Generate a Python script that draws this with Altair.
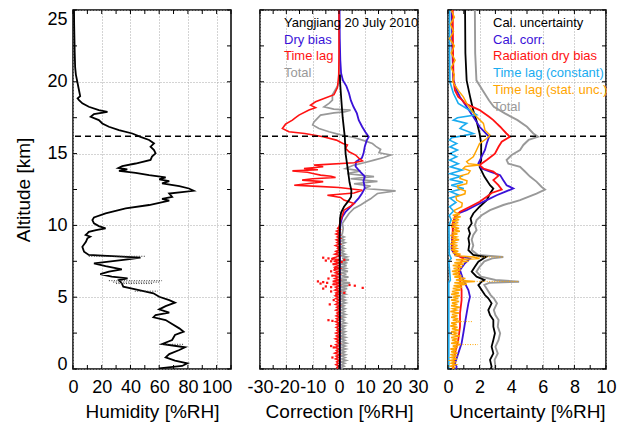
import altair as alt
import pandas as pd

FONT = "Liberation Sans"
W, H = 158, 359
FS_LAB = 18
FS_TIT = 19

# ---------------- data (altitude km, value) ----------------
HUMIDITY = [(25.0,0.7),(24.0,0.8),(23.0,1.0),(22.0,1.2),(21.0,1.5),(20.5,2.0),(20.0,3.0),(19.5,4.0),(19.0,5.0),(18.85,3.2),(18.72,4.2),(18.5,6.5),(18.26,11),(18.03,18),(17.91,24),(17.75,14.6),(17.56,12.3),(17.33,18),(17.1,20.4),(16.87,25),(16.64,32),(16.4,41.3),(16.17,47),(15.95,53),(15.71,56.4),(15.48,54),(15.25,56.4),(15.02,57.5),(14.79,55),(14.56,54),(14.31,43.6),(14.13,34.3),(14.0,31.6),(13.9,37.8),(13.8,32),(13.66,43.6),(13.5,53),(13.34,64.5),(13.2,60),(13.08,67),(12.92,62),(12.74,74),(12.57,80.7),(12.41,84),(12.22,67),(11.99,69),(11.85,62),(11.72,67),(11.42,53),(11.18,36.7),(10.83,22.7),(10.55,14.6),(10.37,13.5),(10.14,14.6),(9.95,18),(9.79,22.7),(9.67,16),(9.55,11),(9.44,10),(9.33,8.8),(9.21,12),(9.1,10),(8.86,9),(8.51,6.5),(8.17,7.7),(7.94,11),(7.75,47),(7.63,38),(7.36,14.6),(7.17,22.7),(6.94,34),(6.78,25),(6.61,19),(6.43,27),(6.31,38),(6.19,32),(5.96,34),(5.73,35),(5.54,43.6),(5.27,56),(5.03,60),(4.80,67),(4.62,71),(4.38,64.5),(4.15,60),(3.92,67),(3.76,57.5),(3.60,56),(3.41,64.5),(3.13,69),(2.83,74),(2.60,77),(2.37,71),(2.02,69),(1.74,62),(1.51,78),(1.32,74),(1.04,67),(0.81,64.5),(0.58,71),(0.39,79.6),(0.21,76),(0.05,60)]
HUM_SPIKES = [(7.85,11,50),(6.15,25,62),(6.05,28,60),(5.95,30,56),(5.42,43,59),(1.72,62,77)]

DRY_BIAS = [(25,0.2),(23,0.3),(21.5,0.5),(20.6,0.8),(20.1,1.5),(19.7,2.8),(19.2,3.8),(18.7,4.5),(18.26,5.5),(17.8,6.8),(17.33,7.5),(16.87,8.8),(16.5,10),(16.17,11.3),(15.9,10.5),(15.5,9.8),(15.0,9.3),(14.7,8.7),(14.45,6.5),(14.1,6.3),(13.75,8.0),(13.4,9.8),(13.1,9.3),(12.9,9.5),(12.6,9.8),(12.22,8.7),(11.9,7.5),(11.53,5.7),(11.18,3.8),(10.95,2.5),(10.6,1.3),(10.14,0.6),(9.5,0.3),(7.5,0.4),(5,0.3),(2,0.3),(0,0.3)]
TIME_LAG_UPPER = [(25,0.0),(22,0.0),(20.5,-0.1),(20.1,-0.3),(19.6,-0.6),(19.1,-1.9),(18.84,-5.7),(18.61,-8.9),(18.37,-10.8),(18.2,-8.9),(18.03,-11.4),(17.68,-15.2),(17.5,-16.5),(17.33,-17.7),(17.05,-20.3),(16.75,-21.5),(16.52,-19),(16.4,-13),(16.17,-6),(15.94,-1),(15.71,1.5),(15.6,3.2),(15.36,2.5),(15.13,3.8),(14.9,6.3),(14.67,7.6),(14.5,8.9),(14.36,5.7),(14.2,-9.5),(14.08,-6),(13.96,-13.3),(13.88,-8),(13.8,-17.7),(13.7,-12),(13.6,-9.5),(13.5,-7),(13.42,-3),(13.34,-1.3),(13.25,-10),(13.15,-14),(13.05,-6),(12.97,-9),(12.88,-13),(12.8,-17),(12.72,-8),(12.64,0),(12.45,8.9),(12.26,5.7),(12.1,-4.4),(11.95,0.6),(11.76,1.9),(11.53,5.7),(11.34,4.4),(11.06,1.9),(10.71,1.3),(10.37,0.6),(9.9,0.0)]
TIME_LAG_LOWER = [(9.8,-0.5),(9.7,0.4),(9.6,-0.9),(9.5,0.2),(9.4,-1.1),(9.3,0.3),(9.2,-0.7),(9.1,0.5),(9.0,-1.0),(8.9,0.1),(8.8,-0.8),(8.7,0.4),(8.6,-1.3),(8.5,0.0),(8.4,-0.6),(8.3,0.3),(8.2,-1.2),(8.1,-0.1),(8.0,-1.6),(7.9,0.2),(7.8,-1.0),(7.7,-2.8),(7.6,0.4),(7.5,-2.0),(7.4,0.1),(7.3,-1.8),(7.2,-0.2),(7.1,-1.5),(7.0,0.3),(6.9,-2.1),(6.8,-0.1),(6.7,-1.4),(6.6,0.2),(6.5,-1.9),(6.4,-0.3),(6.3,-1.6),(6.2,0.1),(6.1,-2.4),(6.0,0.6),(5.9,-1.7),(5.8,0.2),(5.7,-1.3),(5.6,-0.2),(5.5,-1.5),(5.4,0.3),(5.3,-1.1),(5.2,0.1),(5.1,-1.4),(5.0,-0.2),(4.9,-1.2),(4.8,0.2),(4.7,-1.0),(4.6,-0.1),(4.5,-1.3),(4.4,0.3),(4.3,-0.9),(4.2,0.0),(4.1,-1.2),(4.0,0.2),(3.9,-0.8),(3.8,-0.1),(3.7,-1.1),(3.6,0.3),(3.5,-1.0),(3.4,-0.2),(3.3,-1.3),(3.2,0.1),(3.1,-0.9),(3.0,0.2),(2.9,-1.1),(2.8,-0.1),(2.7,-0.8),(2.6,0.3),(2.5,-1.2),(2.4,0.0),(2.3,-1.0),(2.2,0.2),(2.1,-1.4),(2.0,-0.1),(1.9,-0.9),(1.8,0.3),(1.7,-1.2),(1.6,-0.2),(1.5,-1.5),(1.4,0.1),(1.3,-1.0),(1.2,-0.3),(1.1,-1.6),(1.0,0.2),(0.9,-1.1),(0.8,-0.2),(0.7,-1.3),(0.6,0.1),(0.5,-0.9),(0.4,-0.3),(0.3,-1.2),(0.2,0.0),(0.1,-0.8),(0.0,-0.4)]
TOTAL_CORR_UPPER = [(25,0.0),(22,0.1),(20.5,0.3),(20.1,0.6),(19.7,-0.6),(19.1,-2.5),(18.72,-2.5),(18.5,-3.8),(18.26,-5.7),(18.1,-2.0),(18.03,4.4),(17.9,2.0),(17.84,-1.9),(17.68,-7.0),(17.45,-8.2),(17.2,-9.5),(17.0,-10.0),(16.75,-7.6),(16.52,-3.8),(16.3,0.6),(16.12,5.7),(15.9,9.5),(15.7,12.7),(15.5,14.0),(15.29,15.8),(15.06,15.2),(14.9,19.6),(14.73,17.0),(14.55,13.3),(14.36,9.5),(14.2,5.7),(13.96,2.5),(13.8,8.2),(13.6,3.2),(13.4,13.3),(13.25,4.4),(13.07,14.6),(12.9,5.7),(12.74,12.0),(12.57,9.5),(12.41,21.5),(12.22,14.6),(12.04,13.3),(11.85,12.0),(11.64,10.1),(11.42,8.2),(11.18,5.7),(10.83,3.8),(10.48,2.5),(10.14,1.3),(9.79,1.6),(9.44,1.3)]
TOTAL_CORR_LOWER = [(9.3,0.8),(9.2,2.0),(9.1,0.6),(9.0,1.9),(8.9,0.9),(8.8,2.3),(8.7,0.5),(8.6,1.7),(8.5,0.7),(8.4,2.1),(8.3,0.4),(8.2,1.8),(8.1,0.9),(8.0,2.4),(7.9,0.6),(7.8,3.0),(7.7,1.2),(7.6,3.8),(7.5,0.3),(7.4,3.2),(7.3,0.8),(7.2,2.9),(7.1,0.2),(7.0,2.6),(6.9,1.0),(6.8,3.4),(6.7,0.4),(6.6,2.8),(6.5,0.9),(6.4,3.6),(6.3,0.1),(6.2,3.0),(6.1,-0.3),(6.0,4.2),(5.9,0.5),(5.8,3.5),(5.7,0.0),(5.6,3.1),(5.5,0.6),(5.4,2.7),(5.3,0.4),(5.2,2.5),(5.1,0.8),(5.0,2.2),(4.9,0.6),(4.8,2.4),(4.7,1.0),(4.6,2.6),(4.5,0.5),(4.4,2.0),(4.3,0.8),(4.2,2.3),(4.1,0.6),(4.0,2.1),(3.9,0.9),(3.8,2.5),(3.7,0.4),(3.6,2.2),(3.5,0.7),(3.4,2.0),(3.3,1.0),(3.2,2.6),(3.1,0.5),(3.0,2.3),(2.9,0.8),(2.8,2.1),(2.7,0.6),(2.6,2.4),(2.5,0.9),(2.4,2.2),(2.3,0.5),(2.2,2.5),(2.1,0.7),(2.0,2.3),(1.9,1.0),(1.8,2.8),(1.7,0.6),(1.6,2.4),(1.5,0.8),(1.4,2.6),(1.3,0.5),(1.2,2.2),(1.1,0.9),(1.0,2.5),(0.9,0.7),(0.8,2.3),(0.7,1.0),(0.6,2.7),(0.5,0.6),(0.4,2.2),(0.3,0.9),(0.2,2.0),(0.1,0.8),(0.0,1.5)]
CAL_CORR = [(20.5,0.35),(20,0.4),(18.7,0.9),(17.5,1.4),(16.17,2.2),(15,2.5),(14.1,3.2),(13,4.0),(12.45,4.7),(12,4.6),(11.76,3.8),(11.3,1.9),(10.9,0.8),(10.5,0.4),(9,0.2),(5,0.3),(0,0.3)]
TIME_LAG_DOTS = [(7.75,-6),(7.7,-4),(7.65,-2.5),(7.6,2),(7.55,-5),(7.5,-3),(7.45,1),(7.3,-2),(7.0,-1.5),(6.8,-3),(6.5,-2.5),(6.3,-4),(6.1,-8),(6.05,-6),(6.0,-4.5),(5.95,-7),(5.9,-2),(5.85,4),(5.8,6),(5.75,-5),(5.7,-3),(5.65,9),(5.6,-6),(5.5,-1),(5.4,-3),(5.3,2),(5.2,-1),(4.8,-2),(4.5,-3.5),(3.4,-4),(3.35,-2.5),(1.6,-3),(1.5,-2),(0.8,-2.5)]

CAL_UNC = [(25,1.08),(22,1.1),(20.1,1.18),(18.95,1.4),(18.0,1.6),(17.3,1.8),(16.4,2.0),(15.7,2.1),(15.0,2.1),(14.55,2.1),(14.08,2.0),(13.85,2.1),(13.4,2.3),(12.8,2.66),(12.57,2.87),(12.22,2.66),(11.76,2.45),(11.3,2.0),(10.83,1.6),(10.48,1.43),(10.14,1.5),(9.79,1.29),(9.44,1.39),(9.1,1.29),(8.7,1.35),(8.28,1.29),(7.94,1.6),(7.8,2.4),(7.7,2.24),(7.47,1.92),(7.12,1.7),(6.78,1.5),(6.43,1.81),(6.2,2.3),(6.08,2.13),(5.85,1.92),(5.5,2.13),(5.15,2.34),(4.92,2.55),(4.57,2.76),(4.1,2.55),(3.76,2.66),(3.41,2.87),(2.95,2.87),(2.49,2.97),(2.02,2.87),(1.55,2.76),(1.09,2.87),(0.63,2.66),(0.16,2.76),(0,2.7)]
TOTAL_UNC = [(25,1.7),(22,1.72),(20.1,1.8),(19.4,2.2),(18.7,2.6),(18.26,2.9),(17.8,3.6),(17.33,4.4),(16.87,5.0),(16.4,5.4),(16.17,5.7),(15.95,5.1),(15.6,4.77),(15.25,4.56),(14.9,4.03),(14.55,3.71),(14.3,3.82),(14.08,4.56),(13.75,4.87),(13.4,5.19),(13.05,5.6),(12.68,5.93),(12.5,6.14),(12.22,5.6),(11.99,5.08),(11.76,4.56),(11.42,3.5),(11.06,2.66),(10.71,2.13),(10.37,1.81),(10.02,1.7),(9.67,1.81),(9.33,1.6),(9.0,1.5),(8.6,1.6),(8.28,1.5),(7.94,1.9),(7.8,3.5),(7.7,2.8),(7.5,2.3),(7.12,2.0),(6.78,1.8),(6.43,2.1),(6.2,3.0),(6.08,4.5),(6.0,2.6),(5.85,2.3),(5.5,2.5),(5.15,2.7),(4.92,2.9),(4.57,3.1),(4.1,2.9),(3.76,3.0),(3.41,3.2),(2.95,3.15),(2.49,3.3),(2.02,3.2),(1.55,3.0),(1.09,3.15),(0.63,2.95),(0.16,3.0),(0,2.9)]
CAL_CORR_UNC = [(25,0.23),(22,0.28),(20.1,0.34),(19.4,0.55),(18.95,0.76),(18.26,1.18),(17.56,1.6),(16.87,2.0),(16.17,2.6),(15.71,2.45),(15.25,2.34),(14.79,2.13),(14.31,1.92),(13.96,2.13),(13.75,2.66),(13.5,3.3),(13.15,3.5),(12.8,3.71),(12.57,4.13),(12.33,3.6),(12.1,3.08),(11.76,2.45),(11.42,1.81),(11.06,1.18),(10.83,0.65),(10.48,0.44),(9.9,0.34),(9.0,0.25),(8.3,0.23),(7.9,0.5),(7.7,1.39),(7.36,1.07),(6.89,0.76),(6.19,0.97),(5.5,1.29),(5.03,1.39),(4.57,1.29),(3.87,1.18),(3.17,1.07),(2.49,0.97),(1.79,0.86),(1.09,0.65),(0.39,0.44),(0.16,0.55),(0,0.5)]
RAD_UNC = [(25,0.3),(22,0.32),(20.1,0.35),(19.4,0.44),(18.95,0.65),(18.72,0.9),(18.5,1.07),(18.03,2.0),(17.56,2.6),(17.33,2.87),(17.1,3.08),(16.87,3.3),(16.63,3.5),(16.4,3.7),(16.17,3.92),(15.83,3.4),(15.48,3.2),(15.0,2.97),(14.56,2.45),(14.2,2.0),(13.96,2.24),(13.75,2.87),(13.45,3.19),(13.15,2.87),(12.8,3.19),(12.5,3.4),(12.26,2.76),(11.99,2.45),(11.64,2.0),(11.3,1.39),(10.95,0.76),(10.6,0.44),(10.14,0.3),(9,0.3),(8.3,0.3),(7.9,0.6),(7.7,0.97),(7.12,0.65),(6.19,0.76),(5.5,0.86),(4.8,0.86),(3.87,0.76),(2.95,0.76),(2.02,0.65),(1.09,0.44),(0.16,0.34),(0,0.3)]
TL_CONST = [(25,0.1),(22,0.1),(20,0.12),(19.2,0.34),(18.5,0.65),(18.0,1.39),(17.7,1.81),(17.5,0.6),(17.33,0.34),(17.1,1.18),(16.9,0.9),(16.75,0.76),(16.4,1.6),(16.25,1.0),(16.1,0.23),(15.94,0.1),(15.7,0.55),(15.47,0.13),(15.25,0.6),(15.0,0.13),(14.78,0.55),(14.55,0.1),(14.3,0.65),(14.08,0.15),(13.85,0.9),(13.6,0.12),(13.4,0.8),(13.2,0.1),(13.0,0.95),(12.8,0.2),(12.57,1.0),(12.35,0.15),(12.1,0.7),(11.9,0.12),(11.6,0.5),(11.3,0.1),(11.0,0.35),(10.7,0.08),(10.4,0.2),(10,0.06),(8,0.08),(7.7,0.2),(7.5,0.05),(6.2,0.15),(6,0.05),(3,0.05),(0,0.05)]
TL_STAT_UPPER = [(25,0.2),(24.5,0.4),(24,0.15),(23.5,0.35),(23,0.1),(22.5,0.4),(22,0.2),(21.5,0.45),(21,0.2),(20.5,0.4),(20,0.3),(19.4,0.65),(18.95,0.97),(18.5,1.18),(18.0,1.5),(17.56,1.81),(17.1,2.24),(16.63,2.34),(16.28,2.66),(16.05,2.45),(15.7,2.0),(15.25,1.81),(14.78,1.6),(14.44,1.18),(14.3,1.29),(14.2,2.0),(14.1,1.1),(13.96,0.97),(13.8,1.4),(13.6,1.29),(13.45,0.8),(13.26,0.76),(13.1,1.2),(12.9,1.18),(12.75,0.6),(12.57,0.65),(12.4,1.1),(12.2,1.07),(12.0,0.5),(11.76,0.55),(11.55,0.9),(11.3,0.87),(11.05,0.4)]
TL_STAT_LOWER = [(10.9,0.45),(10.8,0.75),(10.7,0.3),(10.6,0.8),(10.5,0.4),(10.4,0.7),(10.3,0.25),(10.2,0.65),(10.1,0.3),(10.0,0.6),(9.9,0.2),(9.8,0.7),(9.7,0.35),(9.6,0.75),(9.5,0.25),(9.4,0.6),(9.3,0.15),(9.2,0.55),(9.1,0.3),(9.0,0.7),(8.9,0.2),(8.8,0.5),(8.7,0.15),(8.6,0.6),(8.5,0.25),(8.4,0.55),(8.3,0.2),(8.2,0.65),(8.1,0.3),(8.0,0.8),(7.9,0.4),(7.8,1.6),(7.7,2.0),(7.6,0.5),(7.5,1.3),(7.4,0.4),(7.3,1.0),(7.2,0.3),(7.1,0.9),(7.0,0.35),(6.9,0.8),(6.8,0.25),(6.7,0.75),(6.6,0.3),(6.5,0.85),(6.4,0.4),(6.3,1.1),(6.2,0.5),(6.1,1.7),(6.0,0.4),(5.9,1.2),(5.8,0.35),(5.7,0.9),(5.6,0.3),(5.5,0.8),(5.4,0.25),(5.3,0.7),(5.2,0.2),(5.1,0.75),(5.0,0.3),(4.9,0.65),(4.8,0.2),(4.7,0.7),(4.6,0.25),(4.5,0.6),(4.4,0.2),(4.3,0.75),(4.2,0.3),(4.1,0.55),(4.0,0.15),(3.9,0.7),(3.8,0.25),(3.7,0.6),(3.6,0.2),(3.5,0.65),(3.4,0.3),(3.3,0.8),(3.2,0.2),(3.1,0.55),(3.0,0.15),(2.9,0.6),(2.8,0.25),(2.7,0.7),(2.6,0.2),(2.5,0.55),(2.4,0.3),(2.3,0.75),(2.2,0.2),(2.1,0.6),(2.0,0.25),(1.9,0.7),(1.8,0.2),(1.7,0.8),(1.6,0.3),(1.5,0.6),(1.4,0.15),(1.3,0.55),(1.2,0.2),(1.1,0.6),(1.0,0.15),(0.9,0.5),(0.8,0.2),(0.7,0.55),(0.6,0.15),(0.5,0.45),(0.4,0.2),(0.3,0.5),(0.2,0.15),(0.1,0.4),(0.0,0.3)]
UNC_SPIKES = [(7.8,1.0,3.5),(6.1,1.5,4.5),(3.3,0.5,1.6),(1.7,0.6,1.9)]

TROPOPAUSE = [16.2]
Y_LABELS = [0, 5, 10, 15, 20, 25]
Y_TICKS = [i * 2.5 for i in range(11)]

BLUE, RED, GRAY, CYAN, ORANGE = "#3a12d8", "#ff1212", "#999999", "#1aacf0", "#ffa500"
GRID = dict(gridDash=[1, 2], gridColor="#a8a8a8", gridWidth=1, gridOpacity=1)

yscale = alt.Scale(domain=[0, 25], nice=False, zero=False)


def prof(pairs):
    return pd.DataFrame({"alt": [p[0] for p in pairs], "v": [p[1] for p in pairs],
                         "i": list(range(len(pairs)))})


def x_axis(values, title, hyphen=False):
    extra = {}
    if hyphen:
        extra["labelExpr"] = "datum.value < 0 ? '-' + format(-datum.value, 'd') : datum.label"
    return alt.Axis(values=values, title=title, grid=True, ticks=False, domain=False,
                    labelFontSize=FS_LAB, titleFontSize=FS_TIT, labelFont=FONT, titleFont=FONT,
                    labelPadding=9, titlePadding=6, labelOverlap=False, labelFlush=False,
                    labelColor="black", titleColor="black", titleFontWeight="normal", **GRID, **extra)


def y_axis(show):
    if show:
        return alt.Axis(values=Y_LABELS, title="Altitude [km]", grid=True, ticks=False, domain=False,
                        labelFontSize=FS_LAB, titleFontSize=FS_TIT, labelFont=FONT, titleFont=FONT,
                        labelPadding=6, titlePadding=13, labelFlush=True,
                        labelOffset={"condition": {"test": "datum.value === 0", "value": 4}, "value": 0},
                        labelOverlap=False,
                        labelColor="black", titleColor="black", titleFontWeight="normal", **GRID)
    return alt.Axis(values=Y_LABELS, labels=False, grid=True, ticks=False, domain=False,
                    title="", **GRID)


class Panel:
    def __init__(self, xs, xax, yax):
        self.xs, self.xax, self.yax = xs, xax, yax

    def X(self, field="v"):
        return alt.X(f"{field}:Q", scale=self.xs, axis=self.xax)

    def Y(self, field="alt"):
        return alt.Y(f"{field}:Q", scale=yscale, axis=self.yax)

    def line(self, pairs, color, width=1.8):
        return alt.Chart(prof(pairs)).mark_line(color=color, strokeWidth=width, clip=True).encode(
            x=self.X(), y=self.Y(), order="i:Q")

    def spikes(self, triples, color):
        df = pd.DataFrame({"alt": [s[0] for s in triples], "v": [s[1] for s in triples],
                           "b": [s[2] for s in triples]})
        return alt.Chart(df).mark_rule(color=color, strokeWidth=1, strokeDash=[1, 1.5]).encode(
            y=self.Y(), x=self.X(), x2="b:Q")

    def frame(self, xticks):
        tl = 4
        dx = pd.DataFrame({"v": xticks})
        dy = pd.DataFrame({"alt": Y_TICKS})
        out = []
        for a, b in [(0, tl), (H - tl, H)]:
            out.append(alt.Chart(dx).mark_rule(color="black", strokeWidth=1).encode(
                x=self.X(), y=alt.value(a), y2=alt.value(b)))
        for a, b in [(0, tl), (W - tl, W)]:
            out.append(alt.Chart(dy).mark_rule(color="black", strokeWidth=1).encode(
                y=self.Y(), x=alt.value(a), x2=alt.value(b)))
        out.append(alt.Chart(pd.DataFrame({"alt": TROPOPAUSE})).mark_rule(
            color="black", strokeWidth=1.5, strokeDash=[6, 4]).encode(y=self.Y()))
        return out


def legend(rows, x0, y0, dy):
    out = []
    for k, (txt, col) in enumerate(rows):
        out.append(alt.Chart(pd.DataFrame({"t": [txt]})).mark_text(
            align="left", baseline="middle", font=FONT, fontSize=13, color=col).encode(
            text="t:N", x=alt.value(x0), y=alt.value(y0 + k * dy)))
    return out


# ---------- panel 1 ----------
P1 = Panel(alt.Scale(domain=[0, 110], nice=False, zero=False),
           x_axis([0, 20, 40, 60, 80, 100], "Humidity [%RH]"), y_axis(True))
p1 = alt.layer(
    P1.line(HUMIDITY, "black", 1.8),
    P1.spikes(HUM_SPIKES, "#333333"),
    *P1.frame(list(range(0, 111, 10))),
).properties(width=W, height=H)

# ---------- panel 2 ----------
P2 = Panel(alt.Scale(domain=[-30, 30], nice=False, zero=False),
           x_axis([-30, -20, -10, 0, 10, 20, 30], "Correction [%RH]", hyphen=True), y_axis(False))
p2 = alt.layer(
    P2.line(TOTAL_CORR_UPPER + TOTAL_CORR_LOWER, GRAY, 1.7),
    P2.line(DRY_BIAS, BLUE),
    P2.line(TIME_LAG_UPPER + TIME_LAG_LOWER, RED, 1.6),
    alt.Chart(prof(TIME_LAG_DOTS)).mark_square(color=RED, size=5, opacity=1).encode(x=P2.X(), y=P2.Y()),
    P2.line(CAL_CORR, "black"),
    *P2.frame(list(range(-30, 31, 5))),
    *legend([("Yangjiang 20 July 2010", "black"), ("Dry bias", BLUE), ("Time lag", RED), ("Total", GRAY)],
             24, 13, 16.5),
).properties(width=W, height=H)

# ---------- panel 3 ----------
P3 = Panel(alt.Scale(domain=[0, 10], nice=False, zero=False),
           x_axis([0, 2, 4, 6, 8, 10], "Uncertainty [%RH]"), y_axis(False))
p3 = alt.layer(
    P3.line(TOTAL_UNC, GRAY, 1.9),
    P3.line(CAL_UNC, "black"),
    P3.line(CAL_CORR_UNC, BLUE),
    P3.line(RAD_UNC, RED),
    P3.line(TL_CONST, CYAN, 1.6),
    P3.line(TL_STAT_UPPER + TL_STAT_LOWER, ORANGE, 1.5),
    P3.spikes(UNC_SPIKES, ORANGE),
    *P3.frame(list(range(0, 11))),
    *legend([("Cal. uncertainty", "black"), ("Cal. corr.", BLUE), ("Radiation dry bias", RED),
             ("Time lag (constant)", CYAN), ("Time lag (stat. unc.)", ORANGE), ("Total", GRAY)],
            45, 12.7, 16.8),
).properties(width=W, height=H)

chart = alt.hconcat(p1, p2, p3, spacing=13).properties(
    padding={"left": 6, "top": 0, "right": 0, "bottom": 0}
).configure_view(stroke="black", strokeWidth=1.5)

chart.save("out.html", embed_options={"renderer": "svg", "actions": False})
